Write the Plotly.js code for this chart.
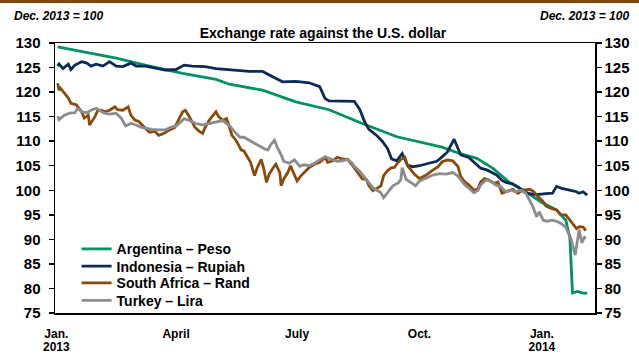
<!DOCTYPE html>
<html>
<head>
<meta charset="utf-8">
<script src="https://cdn.plot.ly/plotly-3.0.1.min.js"></script>
<style>
html,body{margin:0;padding:0;background:#fff;}
#chart{width:639px;height:356px;}
</style>
</head>
<body>
<div id="chart"></div>
<script>
// ---- Data (index, Dec. 2013 = 100) ----
const seriesNames = ["Argentina \u2013 Peso", "Indonesia \u2013 Rupiah", "South Africa \u2013 Rand", "Turkey \u2013 Lira"];

const argDates = ["2013-01-02","2013-01-21","2013-02-15","2013-03-12","2013-04-06","2013-05-01","2013-05-11","2013-06-05","2013-06-30","2013-07-25","2013-08-19","2013-09-14","2013-10-01","2013-10-18","2013-10-31","2013-11-13","2013-11-25","2013-12-07","2013-12-20","2014-01-01","2014-01-12","2014-01-19","2014-01-21","2014-01-22","2014-01-24","2014-01-28","2014-01-31","2014-02-04"];
const argValues = [129.2,128.2,126.9,125.3,123.8,122.6,121.6,120.4,118.0,116.4,113.6,110.9,109.9,108.8,107.5,106.5,104.5,101.7,99.7,97.5,96.0,93.9,91.5,90.5,79.1,79.4,79.1,79.0];

const idnDates = ["2013-01-02","2013-01-03","2013-01-06","2013-01-10","2013-01-12","2013-01-15","2013-01-20","2013-01-24","2013-01-27","2013-01-31","2013-02-05","2013-02-10","2013-02-15","2013-02-20","2013-02-26","2013-03-02","2013-03-09","2013-03-17","2013-03-24","2013-04-01","2013-04-07","2013-04-13","2013-04-23","2013-05-01","2013-05-09","2013-05-19","2013-05-26","2013-06-05","2013-06-13","2013-06-20","2013-06-30","2013-07-10","2013-07-18","2013-07-22","2013-07-25","2013-08-04","2013-08-13","2013-08-17","2013-08-21","2013-08-24","2013-08-30","2013-09-03","2013-09-07","2013-09-10","2013-09-14","2013-09-18","2013-09-22","2013-09-26","2013-10-01","2013-10-08","2013-10-14","2013-10-18","2013-10-22","2013-10-27","2013-10-29","2013-11-01","2013-11-07","2013-11-13","2013-11-16","2013-11-21","2013-11-28","2013-12-02","2013-12-05","2013-12-10","2013-12-15","2013-12-20","2013-12-28","2014-01-04","2014-01-09","2014-01-12","2014-01-16","2014-01-21","2014-01-27","2014-01-29","2014-02-01","2014-02-04"];
const idnValues = [125.3,125.7,124.8,125.7,124.6,125.5,126.2,125.9,125.3,125.7,125.3,126.2,125.3,125.2,125.9,125.3,125.3,124.8,124.5,124.6,125.5,125.3,125.2,124.8,124.6,124.4,124.2,124.2,123.1,122.1,122.2,121.9,121.1,118.7,118.2,118.1,118.1,116.5,113.8,112.4,111.1,110.0,108.5,106.4,106.0,107.5,105.1,104.8,105.0,105.5,105.9,106.8,107.8,110.4,109.0,107.2,106.7,105.3,104.5,104.1,103.1,102.0,101.6,101.3,100.5,99.4,99.1,99.3,99.4,100.8,100.4,100.1,99.7,99.4,99.7,99.0];

const zafDates = ["2013-01-02","2013-01-03","2013-01-04","2013-01-07","2013-01-10","2013-01-12","2013-01-16","2013-01-20","2013-01-22","2013-01-25","2013-01-26","2013-01-30","2013-02-01","2013-02-04","2013-02-06","2013-02-10","2013-02-14","2013-02-16","2013-02-20","2013-02-24","2013-02-26","2013-03-01","2013-03-04","2013-03-08","2013-03-12","2013-03-16","2013-03-19","2013-03-23","2013-03-27","2013-03-31","2013-04-03","2013-04-06","2013-04-08","2013-04-11","2013-04-15","2013-04-18","2013-04-21","2013-04-23","2013-04-26","2013-04-28","2013-05-01","2013-05-03","2013-05-06","2013-05-09","2013-05-11","2013-05-13","2013-05-16","2013-05-19","2013-05-20","2013-05-22","2013-05-25","2013-05-27","2013-05-30","2013-06-01","2013-06-04","2013-06-06","2013-06-08","2013-06-10","2013-06-13","2013-06-15","2013-06-18","2013-06-19","2013-06-21","2013-06-24","2013-06-26","2013-06-29","2013-07-01","2013-07-04","2013-07-06","2013-07-10","2013-07-14","2013-07-18","2013-07-22","2013-07-24","2013-07-28","2013-07-31","2013-08-04","2013-08-08","2013-08-11","2013-08-13","2013-08-16","2013-08-19","2013-08-22","2013-08-24","2013-08-27","2013-08-30","2013-09-02","2013-09-04","2013-09-07","2013-09-10","2013-09-12","2013-09-15","2013-09-17","2013-09-20","2013-09-22","2013-09-25","2013-09-27","2013-10-01","2013-10-06","2013-10-11","2013-10-15","2013-10-18","2013-10-22","2013-10-26","2013-10-30","2013-11-01","2013-11-04","2013-11-07","2013-11-11","2013-11-14","2013-11-16","2013-11-19","2013-11-22","2013-11-26","2013-11-29","2013-12-02","2013-12-06","2013-12-10","2013-12-14","2013-12-17","2013-12-23","2013-12-26","2013-12-29","2014-01-02","2014-01-04","2014-01-08","2014-01-12","2014-01-15","2014-01-19","2014-01-21","2014-01-24","2014-01-27","2014-01-29","2014-02-01","2014-02-03"];
const zafValues = [121.8,120.4,120.8,119.8,118.8,117.7,117.4,116.0,114.7,115.3,113.3,115.0,116.2,116.3,116.0,116.3,117.0,116.4,116.3,117.0,115.3,114.3,114.0,112.9,111.8,112.0,111.2,111.6,112.3,112.8,114.3,116.0,116.3,115.0,112.9,112.1,111.6,112.9,114.3,115.0,116.0,115.0,114.3,114.6,112.9,111.2,110.2,108.5,108.2,108.0,106.7,105.7,103.0,104.6,106.3,104.3,101.6,103.3,104.6,105.3,103.6,100.9,102.3,103.6,105.0,103.3,101.9,103.0,103.6,104.6,105.3,105.7,106.7,105.7,106.0,106.7,106.4,106.3,105.3,104.6,103.6,102.3,102.2,100.9,99.9,100.4,100.9,103.0,104.0,104.6,104.6,105.7,106.3,106.7,105.0,104.0,103.3,102.4,103.1,104.1,104.8,105.8,106.2,106.0,104.8,102.8,101.7,101.1,100.0,100.3,101.7,102.4,102.1,101.4,101.7,99.4,99.8,100.2,99.4,100.0,100.2,99.7,98.7,97.7,96.8,96.3,96.0,95.0,95.0,94.3,93.2,92.2,92.6,92.5,91.8];

const turDates = ["2013-01-02","2013-01-03","2013-01-07","2013-01-11","2013-01-15","2013-01-17","2013-01-20","2013-01-24","2013-01-27","2013-01-31","2013-02-03","2013-02-06","2013-02-10","2013-02-15","2013-02-19","2013-02-22","2013-02-26","2013-03-02","2013-03-06","2013-03-09","2013-03-14","2013-03-19","2013-03-24","2013-03-28","2013-04-01","2013-04-05","2013-04-07","2013-04-11","2013-04-16","2013-04-21","2013-04-26","2013-05-01","2013-05-06","2013-05-09","2013-05-12","2013-05-16","2013-05-19","2013-05-22","2013-05-26","2013-05-30","2013-06-03","2013-06-06","2013-06-09","2013-06-11","2013-06-14","2013-06-16","2013-06-19","2013-06-21","2013-06-25","2013-06-29","2013-07-03","2013-07-06","2013-07-10","2013-07-14","2013-07-18","2013-07-22","2013-07-25","2013-07-28","2013-07-31","2013-08-04","2013-08-08","2013-08-11","2013-08-13","2013-08-17","2013-08-21","2013-08-24","2013-08-27","2013-08-30","2013-09-02","2013-09-04","2013-09-07","2013-09-11","2013-09-15","2013-09-17","2013-09-18","2013-09-21","2013-09-25","2013-09-28","2013-10-01","2013-10-03","2013-10-07","2013-10-11","2013-10-16","2013-10-21","2013-10-26","2013-10-30","2013-11-01","2013-11-04","2013-11-07","2013-11-11","2013-11-14","2013-11-16","2013-11-20","2013-11-24","2013-11-27","2013-12-01","2013-12-05","2013-12-09","2013-12-12","2013-12-16","2013-12-20","2013-12-23","2013-12-25","2013-12-28","2013-12-30","2014-01-02","2014-01-05","2014-01-09","2014-01-13","2014-01-16","2014-01-19","2014-01-21","2014-01-23","2014-01-26","2014-01-28","2014-01-29","2014-01-31","2014-02-02","2014-02-03"];
const turValues = [115.1,114.4,115.3,115.7,115.8,116.7,116.0,115.8,116.3,116.7,116.2,115.7,115.5,115.7,114.6,113.1,113.6,113.3,112.8,112.6,112.4,112.3,112.3,112.8,113.1,114.0,114.6,114.2,113.6,113.3,113.6,114.0,114.2,113.6,112.9,111.6,110.8,110.8,110.2,109.5,109.0,108.5,108.2,109.2,110.2,108.8,107.2,105.9,105.5,106.2,104.9,105.2,105.0,105.5,106.2,106.8,106.5,106.2,105.9,106.0,106.3,105.6,104.9,103.9,102.5,101.5,100.5,100.0,99.5,98.5,99.5,100.9,101.5,102.2,104.6,102.2,101.5,100.9,101.9,102.1,102.6,103.1,103.4,103.3,103.6,102.9,102.1,101.1,100.4,99.5,100.0,101.1,102.1,101.8,101.1,100.7,99.7,100.0,99.7,100.0,99.4,98.0,96.8,94.6,95.6,93.9,93.7,93.9,93.6,93.1,92.5,91.2,90.0,86.8,90.0,92.0,89.3,90.4,90.2];

const xTickDates = ["2013-01-01","2013-04-01","2013-07-01","2013-10-01","2014-01-01"];
const xTickLabels = ["Jan.","April","July","Oct.","Jan."];
const yearTickDates = ["2013-01-01","2014-01-01"];
const yearTickLabels = ["2013","2014"];
const yTickValues = [75,80,85,90,95,100,105,110,115,120,125,130];

const colors = ["#00935F", "#0C2A57", "#8A4A0C", "#8C8C8C"];

const FONT = "Liberation Sans, Arial, sans-serif";
const xRange = ["2012-12-31", "2014-02-09 22:00"];

const legendNames = ["legend", "legend2", "legend3", "legend4"];
const legendY = [0.2955, 0.2314, 0.1690, 0.1049];

const mk = (x, y, i, xa, ya) => ({
  type: "scatter", mode: "lines", x: x, y: y, name: seriesNames[i],
  xaxis: xa, yaxis: ya, legend: legendNames[i],
  line: {color: colors[i], width: 2.8}, hoverinfo: "skip"
});

const traces = [
  mk(argDates, argValues, 0, "x", "y"),
  mk(idnDates, idnValues, 1, "x", "y"),
  mk(zafDates, zafValues, 2, "x", "y"),
  mk(turDates, turValues, 3, "x2", "y2")
];

const yCommon = {
  range: [75, 130], tickvals: yTickValues, ticks: "outside", ticklen: 5, tickwidth: 1.5,
  tickcolor: "#000", showline: true, linecolor: "#000", linewidth: 1.5,
  showgrid: false, zeroline: false, fixedrange: true,
  tickfont: {family: FONT, size: 15, color: "#000", weight: "bold"}
};

const xTickFont = {family: FONT, size: 12, color: "#000", weight: "bold"};
const legFont = {family: FONT, size: 14, color: "#000", weight: "bold"};

const layout = {
  width: 639, height: 356,
  margin: {l: 55, r: 44, t: 43, b: 43, pad: 0},
  paper_bgcolor: "#fff", plot_bgcolor: "#fff",
  showlegend: true,
  title: {text: "Exchange rate against the U.S. dollar", x: 0.5055, xref: "container", y: 0.907, yref: "container",
          xanchor: "center", yanchor: "middle", font: {family: FONT, size: 14, color: "#000", weight: "bold"}},
  xaxis: {
    type: "date", range: xRange,
    tickvals: xTickDates, ticktext: xTickLabels, ticks: "", showline: true, mirror: true,
    linecolor: "#000", linewidth: 1.5, showgrid: false, zeroline: false, fixedrange: true,
    tickfont: xTickFont, ticklabelstandoff: 9
  },
  xaxis2: {
    type: "date", range: xRange, overlaying: "x", anchor: "y2", side: "bottom",
    tickvals: yearTickDates, ticktext: yearTickLabels, ticks: "", showline: false,
    showgrid: false, zeroline: false, fixedrange: true,
    tickfont: xTickFont, ticklabelstandoff: 25
  },
  yaxis: Object.assign({}, yCommon, {side: "left", ticklabelstandoff: 5}),
  yaxis2: Object.assign({}, yCommon, {side: "right", overlaying: "y", anchor: "x2"}),
  shapes: [{type: "rect", xref: "paper", yref: "paper", x0: -0.11, x1: 1.09, y0: 1.148, y1: 1.17,
            fillcolor: "#7E4710", line: {width: 0}}],
  annotations: [
    {text: "Dec. 2013 = 100", xref: "paper", yref: "paper", x: -0.0796, y: 1.1, xanchor: "left", yanchor: "middle",
     showarrow: false, font: {family: FONT, size: 12, color: "#000", weight: "bold", style: "italic"}},
    {text: "Dec. 2013 = 100", xref: "paper", yref: "paper", x: 1.0667, y: 1.1, xanchor: "right", yanchor: "middle",
     showarrow: false, font: {family: FONT, size: 12, color: "#000", weight: "bold", style: "italic"}}
  ]
};

legendNames.forEach((ln, i) => {
  layout[ln] = {x: 0.04, y: legendY[i], xanchor: "left", yanchor: "top", bgcolor: "rgba(0,0,0,0)",
                borderwidth: 0, font: legFont};
});

Plotly.newPlot("chart", traces, layout, {displayModeBar: false, staticPlot: true});
</script>
</body>
</html>
